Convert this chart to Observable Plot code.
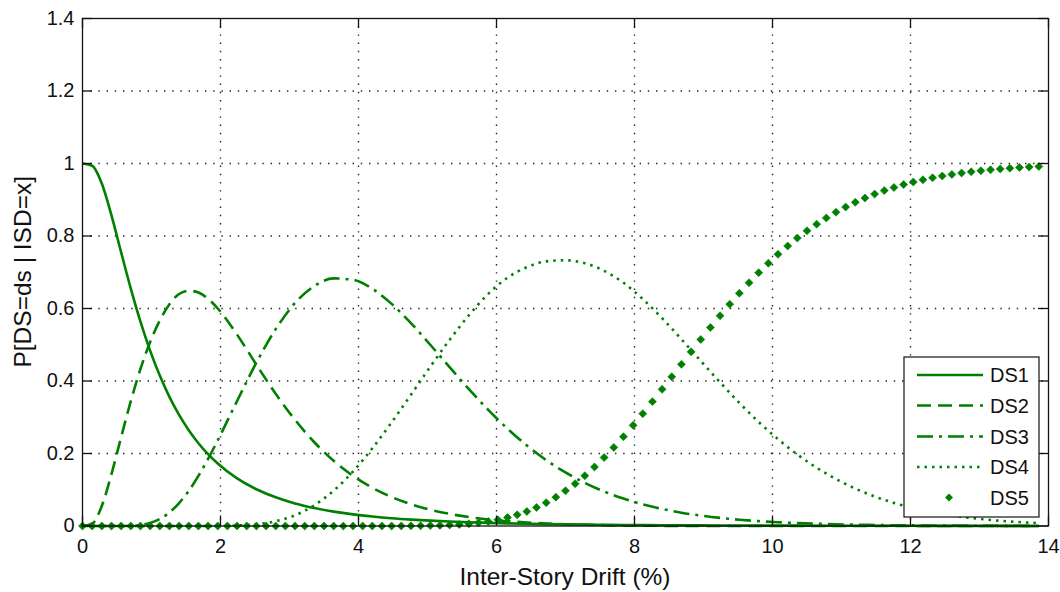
<!DOCTYPE html>
<html>
<head>
<meta charset="utf-8">
<script src="https://cdn.jsdelivr.net/npm/d3@7"></script>
<script src="https://cdn.jsdelivr.net/npm/@observablehq/plot@0.6"></script>
<style>
  html, body { margin: 0; padding: 0; background: #fff; }
  #chart { width: 1060px; height: 592px; }
</style>
</head>
<body>
<div id="chart"></div>
<script>
// Damage-state probabilities vs. inter-story drift
const seriesNames = ["DS1", "DS2", "DS3", "DS4", "DS5"];
const xTicks = [0, 2, 4, 6, 8, 10, 12, 14];
const yTicks = [0, 0.2, 0.4, 0.6, 0.8, 1, 1.2, 1.4];
const xTitle = "Inter-Story Drift (%)";
const yTitle = "P[DS=ds | ISD=x]";

// drift values (%) for the line series
const xLine = [0, 0.14, 0.28, 0.42, 0.56, 0.70, 0.84, 0.98, 1.12, 1.26, 1.40, 1.54, 1.68, 1.82, 1.96,
  2.24, 2.52, 2.80, 3.08, 3.36, 3.64, 3.92, 4.20, 4.48, 4.76, 5.04, 5.32, 5.60, 5.88, 6.16, 6.44, 6.72,
  7.00, 7.28, 7.56, 7.84, 8.12, 8.40, 8.68, 8.96, 9.24, 9.52, 9.80, 10.08, 10.36, 10.64, 10.92, 11.20,
  11.48, 11.76, 12.04, 12.32, 12.60, 12.88, 13.16, 13.44, 13.72, 13.86];

const ds1 = [1.0, 0.9938, 0.9446, 0.8567, 0.7549, 0.6549, 0.5638, 0.4838, 0.4149, 0.3562, 0.3063, 0.2641, 0.2284, 0.1980, 0.1722,
  0.1314, 0.1014, 0.0791, 0.0623, 0.0496, 0.0397, 0.0321, 0.0262, 0.0214, 0.0177, 0.0147, 0.0123, 0.0103, 0.0087, 0.0073, 0.0062, 0.0053,
  0.0046, 0.0039, 0.0034, 0.0029, 0.0025, 0.0022, 0.0019, 0.0017, 0.0015, 0.0013, 0.0012, 0.0010, 0.0009, 0.0008, 0.0007, 0.0006,
  0.0006, 0.0005, 0.0005, 0.0004, 0.0004, 0.0003, 0.0003, 0.0003, 0.0002, 0.0002];

const ds2 = [0, 0.0062, 0.0554, 0.1433, 0.2450, 0.3444, 0.4333, 0.5077, 0.5670, 0.6120, 0.6400, 0.6490, 0.6440, 0.6270, 0.6000,
  0.5280, 0.4450, 0.3646, 0.2929, 0.2310, 0.1798, 0.1383, 0.1054, 0.0799, 0.0601, 0.0449, 0.0334, 0.0247, 0.0181, 0.0133, 0.0096, 0.0069,
  0.0048, 0.0034, 0.0022, 0.0015, 0.0009, 0.0004, 0.0002, 0.0001, 0, 0, 0, 0, 0, 0, 0, 0,
  0, 0, 0, 0, 0, 0, 0, 0, 0, 0];

const ds3 = [0, 0, 0, 0, 0, 0.0007, 0.0029, 0.0085, 0.0194, 0.0374, 0.0632, 0.0970, 0.1381, 0.1851, 0.2361,
  0.3448, 0.4506, 0.5431, 0.6151, 0.6621, 0.6830, 0.6793, 0.6543, 0.6127, 0.5597, 0.5000, 0.4383, 0.3776, 0.3205, 0.2684, 0.2222, 0.1819,
  0.1477, 0.1189, 0.0951, 0.0756, 0.0597, 0.0471, 0.0368, 0.0287, 0.0223, 0.0173, 0.0134, 0.0104, 0.0080, 0.0062, 0.0048, 0.0036,
  0.0028, 0.0021, 0.0016, 0.0012, 0.0009, 0.0007, 0.0005, 0.0004, 0.0003, 0.0002];

const ds4 = [0, 0, 0, 0, 0, 0, 0, 0, 0, 0, 0, 0, 0, 0, 0,
  0.0013, 0.0048, 0.0132, 0.0297, 0.0573, 0.0975, 0.1503, 0.2141, 0.2859, 0.3621, 0.4393, 0.5133, 0.5813, 0.6402, 0.6850, 0.7140, 0.7300,
  0.7330, 0.7250, 0.7040, 0.6710, 0.6260, 0.5732, 0.5152, 0.4553, 0.3964, 0.3396, 0.2870, 0.2395, 0.1973, 0.1607, 0.1295, 0.1032,
  0.0814, 0.0637, 0.0493, 0.0380, 0.0291, 0.0221, 0.0167, 0.0124, 0.0093, 0.0080];

// drift values (%) for the marker series
const xMarker = [0, 0.14, 0.28, 0.42, 0.56, 0.7, 0.84, 0.98, 1.12, 1.26, 1.4, 1.54, 1.68, 1.82, 1.96, 2.1, 2.24, 2.38, 2.52, 2.66,
  2.8, 2.94, 3.08, 3.22, 3.36, 3.5, 3.64, 3.78, 3.92, 4.06, 4.2, 4.34, 4.48, 4.62, 4.76, 4.9, 5.04, 5.18, 5.32, 5.46,
  5.6, 5.74, 5.88, 6.02, 6.16, 6.3, 6.44, 6.58, 6.72, 6.86, 7, 7.14, 7.28, 7.42, 7.56, 7.7, 7.84, 7.98, 8.12, 8.26,
  8.4, 8.54, 8.68, 8.82, 8.96, 9.1, 9.24, 9.38, 9.52, 9.66, 9.8, 9.94, 10.08, 10.22, 10.36, 10.5, 10.64, 10.78, 10.92, 11.06,
  11.2, 11.34, 11.48, 11.62, 11.76, 11.9, 12.04, 12.18, 12.32, 12.46, 12.6, 12.74, 12.88, 13.02, 13.16, 13.3, 13.44, 13.58, 13.72, 13.86];

const ds5 = [0, 0, 0, 0, 0, 0, 0, 0, 0, 0, 0, 0, 0, 0, 0, 0, 0, 0, 0, 0,
  0, 0, 0, 0, 0, 0, 0, 0, 0, 0, 0, 0, 0, 0.0002, 0.0004, 0.0006, 0.0011, 0.0017, 0.0027, 0.0041,
  0.0061, 0.0089, 0.0125, 0.0173, 0.0233, 0.0309, 0.0401, 0.0512, 0.0644, 0.0796, 0.0971, 0.1168, 0.1387, 0.1628, 0.1889, 0.2168, 0.2464, 0.2776, 0.3099, 0.3431,
  0.3771, 0.4117, 0.4459, 0.4804, 0.5144, 0.5478, 0.5800, 0.6118, 0.6421, 0.6711, 0.6988, 0.7248, 0.7495, 0.7725, 0.7942, 0.8143, 0.8327, 0.8499, 0.8654, 0.8798,
  0.8929, 0.9047, 0.9156, 0.9252, 0.9340, 0.9418, 0.9489, 0.9551, 0.9606, 0.9655, 0.9699, 0.9737, 0.9771, 0.9801, 0.9827, 0.9850, 0.9871, 0.9888, 0.9903, 0.9917];

const green = "#008000";
const ink = "#111";
const dashes = ["none", "14,7", "16,6,3,6", "2.5,5"];
const font = "'Liberation Sans', Arial, Helvetica, sans-serif";

const W = 1060, H = 592;
const mL = 82, mR = 12, mT = 18, mB = 66.5;
const innerW = W - mL - mR, innerH = H - mT - mB;
const tickLen = 10;

const lineSeries = [ds1, ds2, ds3, ds4];
const lineRows = lineSeries.map((vals, s) => vals.map((v, i) => ({x: xLine[i], y: v, s: seriesNames[s]})));
const markerRows = ds5.map((v, i) => ({x: xMarker[i], y: v}));

const gridStyle = {stroke: "#222", strokeOpacity: 1, strokeWidth: 1.4, strokeDasharray: "1.4,6.8"};

const chart = Plot.plot({
  width: W, height: H,
  marginLeft: mL, marginRight: mR, marginTop: mT, marginBottom: mB,
  style: {fontFamily: font, fontSize: "20px", color: "#000", background: "#fff", overflow: "visible"},
  x: {domain: [0, 14]},
  y: {domain: [0, 1.4]},
  marks: [
    Plot.gridX(xTicks.slice(1, -1), gridStyle),
    Plot.gridY(yTicks.slice(1, -1), gridStyle),
    ...lineRows.map((rows, s) => Plot.line(rows, {
      x: "x", y: "y", stroke: green, strokeWidth: 2.6, curve: "monotone-x",
      strokeDasharray: dashes[s] === "none" ? null : dashes[s], strokeLinecap: "butt"
    })),
    Plot.dot(markerRows, {x: "x", y: "y", symbol: "diamond2", r: 3.6, fill: green, stroke: green, strokeWidth: 0.6}),
    Plot.frame({stroke: ink, strokeWidth: 1.3}),
    // inward ticks on all four sides
    Plot.ruleX(xTicks, {stroke: ink, strokeWidth: 1.3, insetTop: innerH - tickLen}),
    Plot.ruleX(xTicks, {stroke: ink, strokeWidth: 1.3, insetBottom: innerH - tickLen}),
    Plot.ruleY(yTicks, {stroke: ink, strokeWidth: 1.3, insetRight: innerW - tickLen}),
    Plot.ruleY(yTicks, {stroke: ink, strokeWidth: 1.3, insetLeft: innerW - tickLen}),
    Plot.axisX(xTicks, {tickSize: 0, tickPadding: 13, label: null, tickFormat: d => String(d), fill: ink}),
    Plot.axisY(yTicks, {tickSize: 0, tickPadding: 8, label: null, tickFormat: d => String(d), fill: ink})
  ]
});

document.getElementById("chart").appendChild(chart);

const svg = d3.select(chart);

// axis titles
svg.append("text")
  .attr("x", mL + innerW / 2).attr("y", 585)
  .attr("text-anchor", "middle").attr("font-family", font).attr("font-size", 24.5).attr("fill", ink)
  .text(xTitle);
svg.append("text")
  .attr("transform", `translate(31,${mT + innerH / 2}) rotate(-90)`)
  .attr("text-anchor", "middle").attr("font-family", font).attr("font-size", 24.5).attr("fill", ink)
  .text(yTitle);

// legend box in the lower-right corner of the axes
const lg = svg.append("g").attr("font-family", font).attr("font-size", 20).attr("text-anchor", "start");
const box = {x: 904, y: 357, w: 135, h: 160};
lg.append("rect").attr("x", box.x).attr("y", box.y).attr("width", box.w).attr("height", box.h)
  .attr("fill", "#fff").attr("stroke", ink).attr("stroke-width", 1.2);
const rowY = [375, 405.5, 436.5, 467, 497.5];
seriesNames.forEach((name, i) => {
  const y = rowY[i];
  if (i < 4) {
    lg.append("line").attr("x1", 917).attr("x2", 983).attr("y1", y).attr("y2", y)
      .attr("stroke", green).attr("stroke-width", 2.6)
      .attr("stroke-dasharray", dashes[i] === "none" ? null : dashes[i]);
  } else {
    lg.append("path").attr("d", d3.symbol(d3.symbolDiamond2, Math.PI * 3.6 * 3.6)())
      .attr("transform", `translate(949,${y})`).attr("fill", green);
  }
  lg.append("text").attr("x", 990).attr("y", y).attr("dy", "0.36em").attr("fill", ink).text(name);
});
</script>
</body>
</html>
